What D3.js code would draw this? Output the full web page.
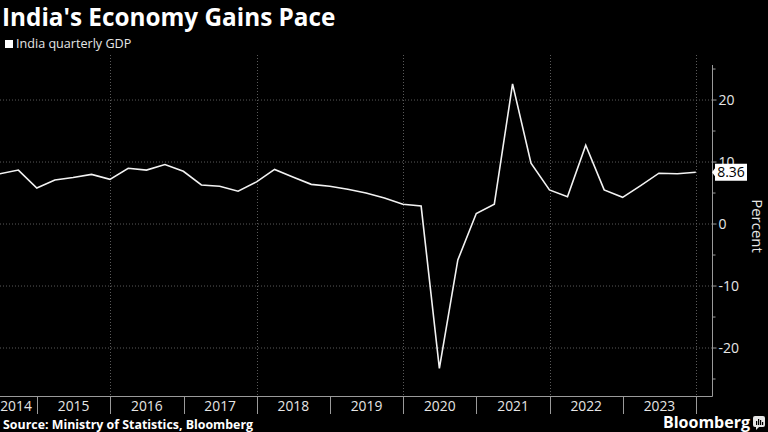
<!DOCTYPE html>
<html>
<head>
<meta charset="utf-8">
<script src="https://cdn.jsdelivr.net/npm/d3@7"></script>
<style>
  html, body { margin: 0; padding: 0; background: #000; }
  svg { display: block; }
  text { font-family: "Open Sans", "Noto Sans", sans-serif; }
</style>
</head>
<body>
<svg id="chart" width="768" height="432"></svg>
<script>
// ---- Data ----
const quarters = [
  "2014-06-30","2014-09-30","2014-12-31",
  "2015-03-31","2015-06-30","2015-09-30","2015-12-31",
  "2016-03-31","2016-06-30","2016-09-30","2016-12-31",
  "2017-03-31","2017-06-30","2017-09-30","2017-12-31",
  "2018-03-31","2018-06-30","2018-09-30","2018-12-31",
  "2019-03-31","2019-06-30","2019-09-30","2019-12-31",
  "2020-03-31","2020-06-30","2020-09-30","2020-12-31",
  "2021-03-31","2021-06-30","2021-09-30","2021-12-31",
  "2022-03-31","2022-06-30","2022-09-30","2022-12-31",
  "2023-03-31","2023-06-30","2023-09-30","2023-12-31"
];
const gdpValues = [
  8.1, 8.7, 5.8,
  7.1, 7.5, 8.0, 7.2,
  9.0, 8.7, 9.6, 8.5,
  6.3, 6.1, 5.3, 6.8,
  8.8, 7.6, 6.4, 6.1,
  5.6, 5.0, 4.2, 3.2,
  2.9, -23.3, -5.8, 1.7,
  3.2, 22.6, 9.8, 5.5,
  4.4, 12.7, 5.5, 4.3,
  6.2, 8.2, 8.1, 8.36
];
const yearLabels = ["2014","2015","2016","2017","2018","2019","2020","2021","2022","2023"];
const yTicks = [-20, -10, 0, 10, 20];
const yMinorTicks = [-25, -15, -5, 5, 15, 25];
const lastLabel = "8.36";

// ---- Layout ----
const svg = d3.select("#chart");
const parse = d3.timeParse("%Y-%m-%d");
const data = quarters.map((q, i) => ({ date: parse(q), value: gdpValues[i] }));

const plotLeft = 0, plotRight = 712, plotTop = 65, plotBottom = 396;

const x = d3.scaleTime()
  .domain([new Date(2015, 0, 1), new Date(2024, 0, 1)])
  .range([37, 696]);
const y = d3.scaleLinear()
  .domain([-27.74, 25.65])
  .range([plotBottom, plotTop]);

// Horizontal gridlines
svg.append("g")
  .selectAll("line")
  .data(yTicks)
  .join("line")
  .attr("x1", plotLeft).attr("x2", plotRight)
  .attr("y1", d => y(d)).attr("y2", d => y(d))
  .attr("stroke", "#5a5a5a")
  .attr("stroke-width", 1)
  .attr("stroke-dasharray", "1,2");

// Vertical gridlines every two years
const gridYears = [2016, 2018, 2020, 2022, 2024].map(yr => new Date(yr, 0, 1));
svg.append("g")
  .selectAll("line")
  .data(gridYears)
  .join("line")
  .attr("x1", d => Math.round(x(d)) + 0.5).attr("x2", d => Math.round(x(d)) + 0.5)
  .attr("y1", 55).attr("y2", plotBottom)
  .attr("stroke", "#5a5a5a")
  .attr("stroke-width", 1)
  .attr("stroke-dasharray", "1,2");

// Bottom axis line
svg.append("line")
  .attr("x1", 0).attr("x2", plotRight + 0.5)
  .attr("y1", plotBottom + 0.5).attr("y2", plotBottom + 0.5)
  .attr("stroke", "#9a9a9a").attr("stroke-width", 1);

// Year separators (ticks) below axis
const yearStarts = d3.range(2015, 2025).map(yr => new Date(yr, 0, 1));
svg.append("g")
  .selectAll("line")
  .data(yearStarts)
  .join("line")
  .attr("x1", d => Math.round(x(d)) + 0.5).attr("x2", d => Math.round(x(d)) + 0.5)
  .attr("y1", plotBottom).attr("y2", plotBottom + 18)
  .attr("stroke", "#9a9a9a").attr("stroke-width", 1);

// Year labels centered in their year
svg.append("g")
  .selectAll("text")
  .data(yearLabels)
  .join("text")
  .attr("x", d => {
    const yr = +d;
    const c = (x(new Date(yr, 0, 1)) + x(new Date(yr + 1, 0, 1))) / 2;
    return Math.max(c, 16);
  })
  .attr("y", 410.5)
  .attr("text-anchor", "middle")
  .attr("fill", "#e6e6e6")
  .attr("font-size", 13.8)
  .text(d => d);

// Right y axis
const axisG = svg.append("g").attr("transform", `translate(${plotRight + 0.5},0)`);
axisG.append("line")
  .attr("x1", 0).attr("x2", 0)
  .attr("y1", plotTop).attr("y2", plotBottom + 0.5)
  .attr("stroke", "#9a9a9a").attr("stroke-width", 1);
axisG.selectAll("line.major")
  .data(yTicks).join("line").attr("class", "major")
  .attr("x1", 0).attr("x2", 4)
  .attr("y1", d => y(d)).attr("y2", d => y(d))
  .attr("stroke", "#9a9a9a");
axisG.selectAll("line.minor")
  .data(yMinorTicks).join("line").attr("class", "minor")
  .attr("x1", 0).attr("x2", 3)
  .attr("y1", d => y(d)).attr("y2", d => y(d))
  .attr("stroke", "#9a9a9a");
axisG.selectAll("text.tick")
  .data(yTicks).join("text").attr("class", "tick")
  .attr("x", 6)
  .attr("y", d => y(d))
  .attr("dy", "0.35em")
  .attr("fill", "#e6e6e6")
  .attr("font-size", 14)
  .text(d => d < 0 ? "-" + Math.abs(d) : d);

// Axis title
svg.append("text")
  .attr("transform", `translate(752,226) rotate(90)`)
  .attr("text-anchor", "middle")
  .attr("fill", "#e6e6e6")
  .attr("font-size", 15)
  .text("Percent");

// Line
const line = d3.line()
  .x(d => x(d.date))
  .y(d => y(d.value));
svg.append("path")
  .datum(data)
  .attr("d", line)
  .attr("fill", "none")
  .attr("stroke", "#f2f2f2")
  .attr("stroke-width", 1.6)
  .attr("stroke-linejoin", "miter");

// Last-value label with pointer
const last = data[data.length - 1];
const ly = y(last.value);
const bx = 715, bw = 32, bh = 17;
svg.append("path")
  .attr("d", `M${bx - 3},${ly} L${bx},${ly - 4} L${bx},${ly - bh / 2} L${bx + bw},${ly - bh / 2} L${bx + bw},${ly + bh / 2} L${bx},${ly + bh / 2} L${bx},${ly + 4} Z`)
  .attr("fill", "#ffffff");
svg.append("text")
  .attr("x", bx + bw / 2)
  .attr("y", ly)
  .attr("dy", "0.36em")
  .attr("text-anchor", "middle")
  .attr("fill", "#000")
  .attr("font-size", 14)
  .text(lastLabel);

// Title
svg.append("text")
  .attr("x", 2).attr("y", 26)
  .attr("fill", "#ffffff")
  .attr("font-size", 24.3)
  .attr("font-weight", "bold")
  .text("India's Economy Gains Pace");

// Legend
svg.append("rect")
  .attr("x", 5).attr("y", 40).attr("width", 8).attr("height", 8)
  .attr("fill", "#ffffff");
svg.append("text")
  .attr("x", 16).attr("y", 48)
  .attr("fill", "#e6e6e6")
  .attr("font-size", 12.6)
  .text("India quarterly GDP");

// Source
svg.append("text")
  .attr("x", 3).attr("y", 428.5)
  .attr("fill", "#ffffff")
  .attr("font-size", 12.4)
  .attr("font-weight", "bold")
  .text("Source: Ministry of Statistics, Bloomberg");

// Bloomberg mark
svg.append("text")
  .attr("x", 750).attr("y", 428)
  .attr("text-anchor", "end")
  .attr("fill", "#ffffff")
  .attr("font-size", 16)
  .attr("font-weight", "bold")
  .text("Bloomberg");
const logo = svg.append("g").attr("transform", "translate(753,416)");
logo.append("rect").attr("width", 12).attr("height", 11).attr("rx", 2).attr("fill", "#e6e6e6");
logo.append("path").attr("d", "M3,11 L3,14 L6,11 Z").attr("fill", "#e6e6e6");
[[3,5,1],[5,3,1],[7,4,1],[9,6,1]].forEach(([bxp, top]) => {
  logo.append("rect").attr("x", bxp).attr("y", top).attr("width", 1.2).attr("height", 9 - top).attr("fill", "#000");
});
</script>
</body>
</html>
